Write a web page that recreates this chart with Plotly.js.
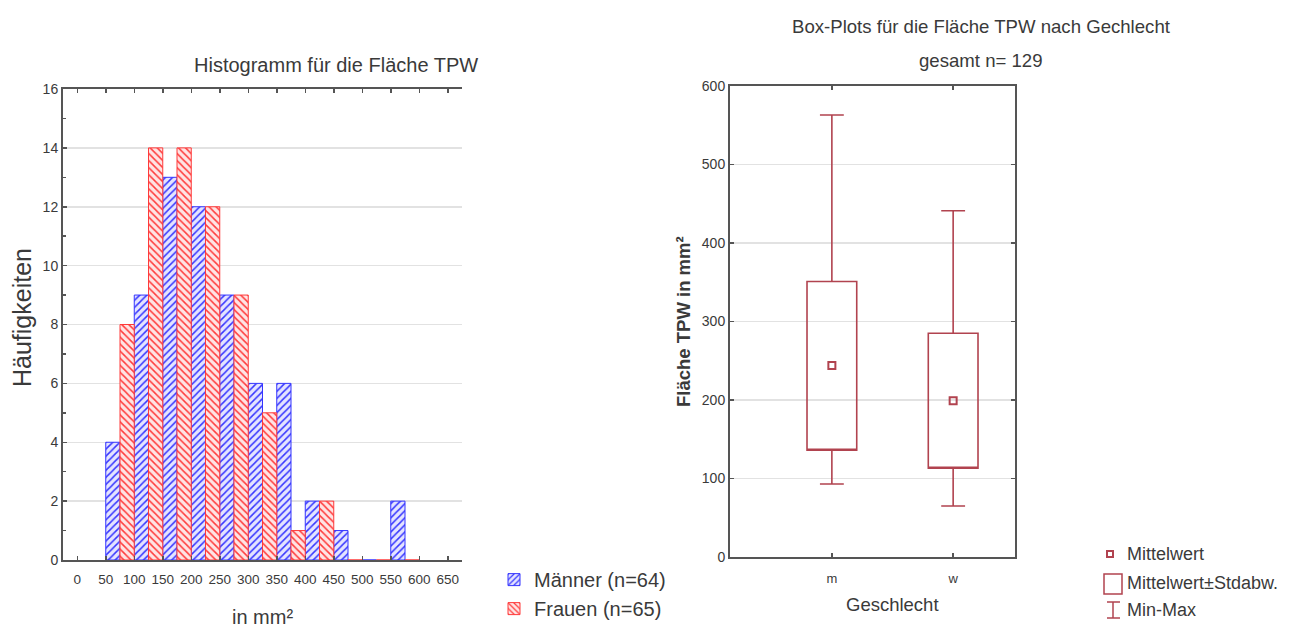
<!DOCTYPE html>
<html>
<head>
<meta charset="utf-8">
<script src="https://cdn.plot.ly/plotly-3.0.1.min.js"></script>
<style>html,body{margin:0;padding:0;background:#fff}#chart{width:1292px;height:630px}</style>
</head>
<body>
<div id="chart"></div>
<script>
// ---- Histogram data (bins of 50 mm², centers) ----
const binCenters = [75, 125, 175, 225, 275, 325, 375, 425, 475, 525, 575];
const maenner = [4, 9, 13, 12, 9, 6, 6, 2, 1, 0, 2];
const frauen  = [8, 14, 14, 12, 9, 5, 1, 2, 0, 0, 0];
const xTicks = [0, 50, 100, 150, 200, 250, 300, 350, 400, 450, 500, 550, 600, 650];

// ---- Box plot data ----
const geschlecht = ['m', 'w'];
const mittelwert = [244, 199];
const mwMinusSd = [136, 113];
const mwPlusSd = [351, 285];
const minimum = [93, 65];
const maximum = [563, 441];

const W = 1292, H = 630;
const px = x => x / W, py = y => 1 - y / H;
const FONT = '"Liberation Sans", Arial, sans-serif';
const TXT = '#3a3a3a';
const AX = '#555555';
const BOXC = '#b1434f';

const traces = [
  {
    type: 'bar', name: 'Männer (n=64)', x: binCenters, y: maenner, xaxis: 'x', yaxis: 'y',
    marker: { color: '#e4e4ff', line: { color: '#3535ff', width: 1 },
      pattern: { shape: '/', fgcolor: '#3535ff', bgcolor: '#e4e4ff', size: 5, solidity: 0.3 } },
    hoverinfo: 'x+y'
  },
  {
    type: 'bar', name: 'Frauen (n=65)', x: binCenters, y: frauen, xaxis: 'x', yaxis: 'y',
    marker: { color: '#ffe4e4', line: { color: '#ff3a3a', width: 1 },
      pattern: { shape: '\\', fgcolor: '#ff3a3a', bgcolor: '#ffe4e4', size: 5, solidity: 0.3 } },
    hoverinfo: 'x+y'
  },
  {
    type: 'box', x: geschlecht, q1: mwMinusSd, median: mwMinusSd, q3: mwPlusSd,
    lowerfence: minimum, upperfence: maximum, xaxis: 'x2', yaxis: 'y2',
    width: 0.41, whiskerwidth: 0.48, fillcolor: 'rgba(255,255,255,0)',
    line: { color: BOXC, width: 1.6 }, showlegend: false, boxpoints: false
  },
  {
    type: 'scatter', mode: 'markers', x: geschlecht, y: mittelwert, xaxis: 'x2', yaxis: 'y2',
    marker: { symbol: 'square-open', size: 7, color: BOXC, line: { width: 2, color: BOXC } },
    showlegend: false
  }
];

const axBase = {
  showline: true, linecolor: AX, linewidth: 2, ticks: 'inside', ticklen: 4,
  tickcolor: AX, tickwidth: 1.5, zeroline: false, tickfont: { family: FONT, size: 14, color: TXT }
};

const layout = {
  width: W, height: H,
  margin: { l: 0, r: 0, t: 0, b: 0 },
  paper_bgcolor: '#fff', plot_bgcolor: '#fff',
  font: { family: FONT, color: TXT },
  barmode: 'group', bargap: 0, bargroupgap: 0,
  showlegend: true,
  legend: {
    x: px(494), y: 0.003, xanchor: 'left', yanchor: 'bottom',
    font: { family: FONT, size: 20, color: TXT }, bgcolor: 'rgba(0,0,0,0)',
    tracegroupgap: 0, itemwidth: 30
  },
  xaxis: Object.assign({}, axBase, {
    domain: [px(63), px(462)], anchor: 'y', range: [-25, 675],
    tickvals: xTicks, ticktext: xTicks.map(String), mirror: 'ticks', showgrid: false,
    ticklabelstandoff: 6, tickfont: { family: FONT, size: 13.5, color: TXT }
  }),
  yaxis: Object.assign({}, axBase, {
    domain: [py(560), py(89)], anchor: 'x', range: [0, 16], dtick: 2,
    showgrid: true, gridcolor: '#e2e2e2', gridwidth: 1.5, tickfont: { family: FONT, size: 14, color: TXT },
    minor: { dtick: 1, ticks: 'inside', ticklen: 3, tickcolor: AX, showgrid: false }
  }),
  yaxis3: Object.assign({}, axBase, {
    overlaying: 'y', side: 'right', anchor: 'x', range: [0, 16], dtick: 2, showgrid: false,
    tickfont: { family: FONT, size: 14, color: TXT },
    minor: { dtick: 1, ticks: 'inside', ticklen: 3, tickcolor: AX }
  }),
  xaxis2: Object.assign({}, axBase, {
    domain: [px(730), px(1015)], anchor: 'y2', type: 'category', range: [-0.84, 1.51],
    mirror: 'ticks', showgrid: false, ticklabelstandoff: 8, tickfont: { family: FONT, size: 13, color: TXT }
  }),
  yaxis2: Object.assign({}, axBase, {
    domain: [py(557), py(86)], anchor: 'x2', range: [0, 600], dtick: 100, mirror: 'ticks',
    showgrid: true, gridcolor: '#e2e2e2', gridwidth: 1.5, tickfont: { family: FONT, size: 14, color: TXT }
  }),
  annotations: [
    { text: 'Histogramm für die Fläche TPW', x: px(336), y: py(65), size: 20 },
    { text: 'Häufigkeiten', x: px(22), y: py(318), size: 25, textangle: -90 },
    { text: 'in mm²', x: px(262), y: py(617), size: 20 },
    { text: 'Box-Plots für die Fläche TPW nach Gechlecht', x: px(981), y: py(27), size: 18.6 },
    { text: 'gesamt n= 129', x: px(981), y: py(60), size: 18.6 },
    { text: 'Fläche TPW in mm²', x: px(683), y: py(322), size: 18.5, textangle: -90, bold: true },
    { text: 'Geschlecht', x: px(892), y: py(604), size: 18.5 },
    { text: 'Mittelwert', x: px(1125), y: py(554), size: 18, xanchor: 'left' },
    { text: 'Mittelwert±Stdabw.', x: px(1125), y: py(583), size: 18, xanchor: 'left' },
    { text: 'Min-Max', x: px(1125), y: py(610), size: 18, xanchor: 'left' }
  ].map(a => ({
    text: a.bold ? '<b>' + a.text + '</b>' : a.text,
    x: a.x, y: a.y, xref: 'paper', yref: 'paper',
    xanchor: a.xanchor || 'center', yanchor: 'middle', showarrow: false,
    textangle: a.textangle || 0,
    font: { family: FONT, size: a.size, color: TXT }
  })),
  shapes: [
    // box-plot legend icons
    { type: 'rect', xref: 'paper', yref: 'paper', x0: px(1107), x1: px(1113), y0: py(551), y1: py(557), line: { color: BOXC, width: 2 } },
    { type: 'rect', xref: 'paper', yref: 'paper', x0: px(1104), x1: px(1122), y0: py(574), y1: py(594), line: { color: BOXC, width: 1.5 } },
    { type: 'line', xref: 'paper', yref: 'paper', x0: px(1113), x1: px(1113), y0: py(602), y1: py(618), line: { color: BOXC, width: 1.5 } },
    { type: 'line', xref: 'paper', yref: 'paper', x0: px(1107), x1: px(1120), y0: py(602), y1: py(602), line: { color: BOXC, width: 1.5 } },
    { type: 'line', xref: 'paper', yref: 'paper', x0: px(1107), x1: px(1120), y0: py(618), y1: py(618), line: { color: BOXC, width: 1.5 } }
  ]
};

Plotly.newPlot('chart', traces, layout, { displayModeBar: false, staticPlot: true });
</script>
</body>
</html>
